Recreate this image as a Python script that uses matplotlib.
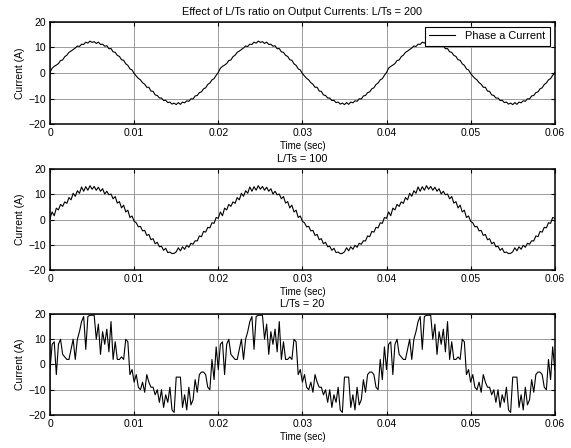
import matplotlib
matplotlib.use('Agg')
import matplotlib.pyplot as plt
import numpy as np

plt.rcParams['font.family'] = ['Liberation Sans', 'DejaVu Sans']

# one 20 ms period of each trace (sample step 0.25 ms)
top_period = [0.2, 1.9, 2.6, 3.1, 3.7, 4.9, 5.1, 6.4, 7.0, 8.1,
              8.6, 9.2, 9.8, 10.6, 10.4, 11.3, 11.2, 12.1, 11.7, 12.5,
              12.0, 12.3, 11.6, 12.1, 11.2, 11.3, 10.5, 10.7, 9.5, 9.6,
              8.3, 8.1, 6.9, 6.5, 5.2, 5.0, 3.6, 3.0, 1.6, 1.2,
              -0.2, -1.2, -2.1, -2.7, -3.8, -4.4, -5.6, -5.6, -7.1, -7.2,
              -8.6, -8.8, -9.8, -9.8, -10.8, -10.7, -11.6, -11.4, -12.2, -11.8,
              -12.4, -11.6, -12.3, -11.4, -11.7, -10.9, -11.1, -10.1, -10.2, -9.0,
              -8.8, -7.7, -7.4, -6.2, -5.8, -4.5, -3.9, -2.7, -2.2, -0.9]

mid_period = [0.5, 3.0, 1.5, 4.5, 3.8, 6.0, 5.2, 7.0, 6.4, 8.7,
              7.8, 10.4, 9.2, 11.4, 10.4, 12.9, 11.2, 13.0, 11.6, 13.4,
              12.0, 13.1, 11.6, 12.8, 11.2, 12.2, 10.1, 11.2, 9.8, 10.1,
              8.2, 9.1, 6.5, 7.1, 4.6, 5.7, 3.0, 3.7, 0.8, 1.4,
              -0.7, -1.3, -2.9, -2.7, -4.5, -4.3, -6.3, -5.9, -8.0, -7.6,
              -9.6, -9.0, -10.8, -10.6, -12.2, -11.4, -13.1, -12.9, -13.5, -13.4,
              -12.8, -11.2, -12.4, -10.8, -11.8, -10.2, -11.0, -9.4, -9.8, -8.4,
              -8.5, -6.5, -6.8, -4.7, -5.0, -3.1, -3.3, -1.3, -1.5, 0.8]

low_period = [-2, 8, 9, -4, 8, 10, 4, 3, 2, 2,
              6, 10, 2, 10, 13, 17, 19, 6, 19, 19.5,
              19.5, 19.5, 10, 16, 4, 13, 8, 14, 5, 17,
              2, 9, 2, 2, 3, 2, 10, 9, -4, -2,
              -7, -4, -9, -10, -7, -11, -4, -7, -9, -9,
              -12, -10, -15, -10, -17, -12, -15, -9, -18, -19,
              -5, -5, -5, -17, -12, -18, -9, -16, -14, -6,
              -11, -4, -3, -3, -4, -9, -10, 2, -6, 7]

n_periods = 3
titles = ['Effect of L/Ts ratio on Output Currents: L/Ts = 200',
          'L/Ts = 100', 'L/Ts = 20']
x_ticks = [0, 0.01, 0.02, 0.03, 0.04, 0.05, 0.06]
x_labels = ['0', '0.01', '0.02', '0.03', '0.04', '0.05', '0.06']
y_ticks = [-20, -10, 0, 10, 20]

fig = plt.figure(figsize=(5.71, 4.48), dpi=100)
boxes = [[0.0876, 0.7232, 0.884, 0.2277],
         [0.0876, 0.3973, 0.884, 0.2254],
         [0.0876, 0.0737, 0.884, 0.2254]]

for box, period, title in zip(boxes, [top_period, mid_period, low_period], titles):
    ax = fig.add_axes(box)
    y = period * n_periods + [period[0]]
    t = np.linspace(0, 0.06, len(y))
    ax.plot(t, y, color='black', lw=0.8, label='Phase a Current')
    ax.set_xlim(0, 0.06)
    ax.set_ylim(-20, 20)
    ax.set_xticks(x_ticks, x_labels)
    ax.set_yticks(y_ticks)
    ax.grid(True, color='#8c8c8c', lw=0.6)
    ax.set_axisbelow(True)
    ax.tick_params(direction='in', length=3, width=0.8, top=True, right=True,
                   labelsize=7.5, pad=3)
    for s in ax.spines.values():
        s.set_linewidth(1.1)
    ax.set_xlabel('Time (sec)', fontsize=7, labelpad=2)
    ax.set_ylabel('Current (A)', fontsize=7.5, labelpad=2)
    ax.set_title(title, fontsize=7.8, pad=5)
    if title.startswith('Effect'):
        leg = ax.legend(loc='upper right', fontsize=7.9, fancybox=False,
                        framealpha=1, edgecolor='black', borderaxespad=0.45,
                        handlelength=2.4, handletextpad=0.9, borderpad=0.4)
        leg.get_frame().set_linewidth(0.8)

fig.savefig('out.png', dpi=100)
